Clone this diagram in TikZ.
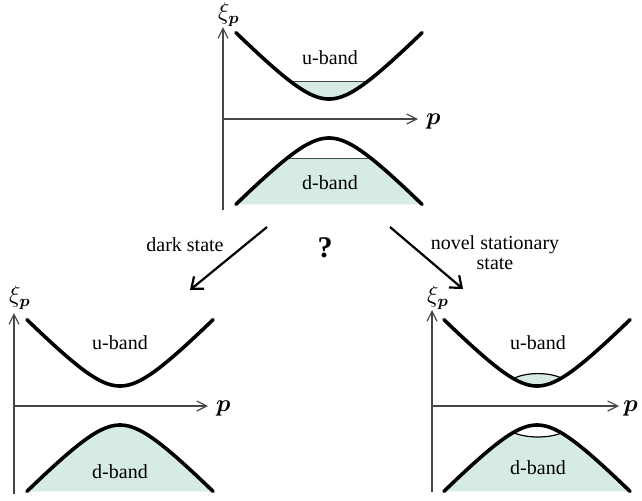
\documentclass[tikz,border=0pt]{standalone}
\usepackage{amsmath}
\usepackage{amssymb}
\usepackage{fontspec}
\setmainfont{Liberation Serif}
\usepackage{xcolor}
\usepackage{tikz}
\usetikzlibrary{arrows.meta}

\definecolor{bandfill}{RGB}{214,235,230}
\definecolor{axisgray}{RGB}{70,70,70}

\begin{document}
\begin{tikzpicture}[
        x=0.5pt, y=-0.5pt,
        font=\fontsize{10}{12}\selectfont,
        declare function={rise(\t)=1.03*(sqrt(1225+\t*\t)-35);},
        band/.style={line width=1.8pt, line join=round, line cap=round},
        axis/.style={draw=axisgray, line width=0.6pt, -{Straight Barb[length=5pt, width=5pt]}},
        axislabel/.style={font=\fontsize{12}{14}\selectfont},
        level/.style={draw=axisgray, line width=0.6pt},
        trans/.style={line width=1.1pt, -{Straight Barb[length=5pt, width=8pt]}},
      ]
      \useasboundingbox (0,0) rectangle (642,500);

      % Upper panel
      \begin{scope}[shift={(223,119)}]
        \fill[bandfill] plot[domain=-38:38, samples=30] ({106+\x},{-20-rise(\x)}) -- cycle;
        \fill[bandfill] plot[domain=-93:-42, samples=30] ({106+\x},{19+rise(\x)})
          -- plot[domain=42:93, samples=30] ({106+\x},{19+rise(\x)}) -- cycle;
        \draw[level] ({106-38},{-20-rise(38)}) -- ({106+38},{-20-rise(38)});
        \draw[level] ({106-42},{19+rise(42)}) -- ({106+42},{19+rise(42)});
        \draw[axis] (0,91) -- (0,-92);
        \draw[axis] (0,0) -- (195,0);
        \draw[band] plot[domain=-93:93, samples=80] ({106+\x},{-20-rise(\x)});
        \draw[band] plot[domain=-93:93, samples=80] ({106+\x},{19+rise(\x)});
        \node[axislabel] (xi-top) at (6,-104) {$\xi_{\boldsymbol{p}}$};
        \node[axislabel, anchor=west] (p-top) at (196,2) {$\boldsymbol{p}$};
        \node (u-top) at (107,-61) {u-band};
        \node (d-top) at (107,64) {d-band};
      \end{scope}

      % Dark state panel
      \begin{scope}[shift={(14,406)}]
        \fill[bandfill] plot[domain=-93:93, samples=80] ({106+\x},{19+rise(\x)}) -- cycle;
        \draw[axis] (0,88) -- (0,-93);
        \draw[axis] (0,0) -- (194,0);
        \draw[band] plot[domain=-93:93, samples=80] ({106+\x},{-20-rise(\x)});
        \draw[band] plot[domain=-93:93, samples=80] ({106+\x},{19+rise(\x)});
        \node[axislabel] (xi-left) at (6,-108) {$\xi_{\boldsymbol{p}}$};
        \node[axislabel, anchor=west] (p-left) at (195,2) {$\boldsymbol{p}$};
        \node (u-left) at (106,-63) {u-band};
        \node (d-left) at (106,66) {d-band};
      \end{scope}

      % Stationary state panel
      \begin{scope}[shift={(432,406)}]
        \fill[bandfill] (82,{-20-rise(24)}) .. controls (94,-34) and (118,-34) .. (130,{-20-rise(24)})
          -- plot[domain=24:-24, samples=20] ({106+\x},{-20-rise(\x)}) -- cycle;
        \fill[bandfill] plot[domain=-93:93, samples=80] ({106+\x},{19+rise(\x)}) -- cycle;
        \fill[white] (82,{19+rise(24)}) .. controls (94,32.4) and (118,32.4) .. (130,{19+rise(24)})
          -- plot[domain=24:-24, samples=20] ({106+\x},{19+rise(\x)}) -- cycle;
        \draw[line width=0.6pt] (82,{-20-rise(24)}) .. controls (94,-34) and (118,-34) .. (130,{-20-rise(24)});
        \draw[line width=0.6pt] (82,{19+rise(24)}) .. controls (94,32.4) and (118,32.4) .. (130,{19+rise(24)});
        \draw[axis] (0,86) -- (0,-96);
        \draw[axis] (0,0) -- (187,0);
        \draw[band] plot[domain=-93:93, samples=80] ({105+\x},{-20-rise(\x)});
        \draw[band] plot[domain=-93:93, samples=80] ({105+\x},{19+rise(\x)});
        \node[axislabel] (xi-right) at (6,-108) {$\xi_{\boldsymbol{p}}$};
        \node[axislabel, anchor=west, inner sep=1pt] (p-right) at (189,2) {$\boldsymbol{p}$};
        \node (u-right) at (106,-63) {u-band};
        \node (d-right) at (106,62) {d-band};
      \end{scope}

      % Transitions
      \coordinate (dark-from) at (267,227);
      \coordinate (dark-to) at (190,290);
      \coordinate (novel-from) at (390,227);
      \coordinate (novel-to) at (463,289);
      \draw[trans] (dark-from) -- (dark-to);
      \draw[trans] (novel-from) -- (novel-to);
      \node (dark) at (185,245) {dark state};
      \node[align=center, font=\fontsize{10}{10}\selectfont] (novel) at (495,253) {novel stationary\\state};
      \node[font=\fontsize{15}{16}\selectfont\bfseries] (query) at (325,248) {?};

    \end{tikzpicture}
\end{document}
